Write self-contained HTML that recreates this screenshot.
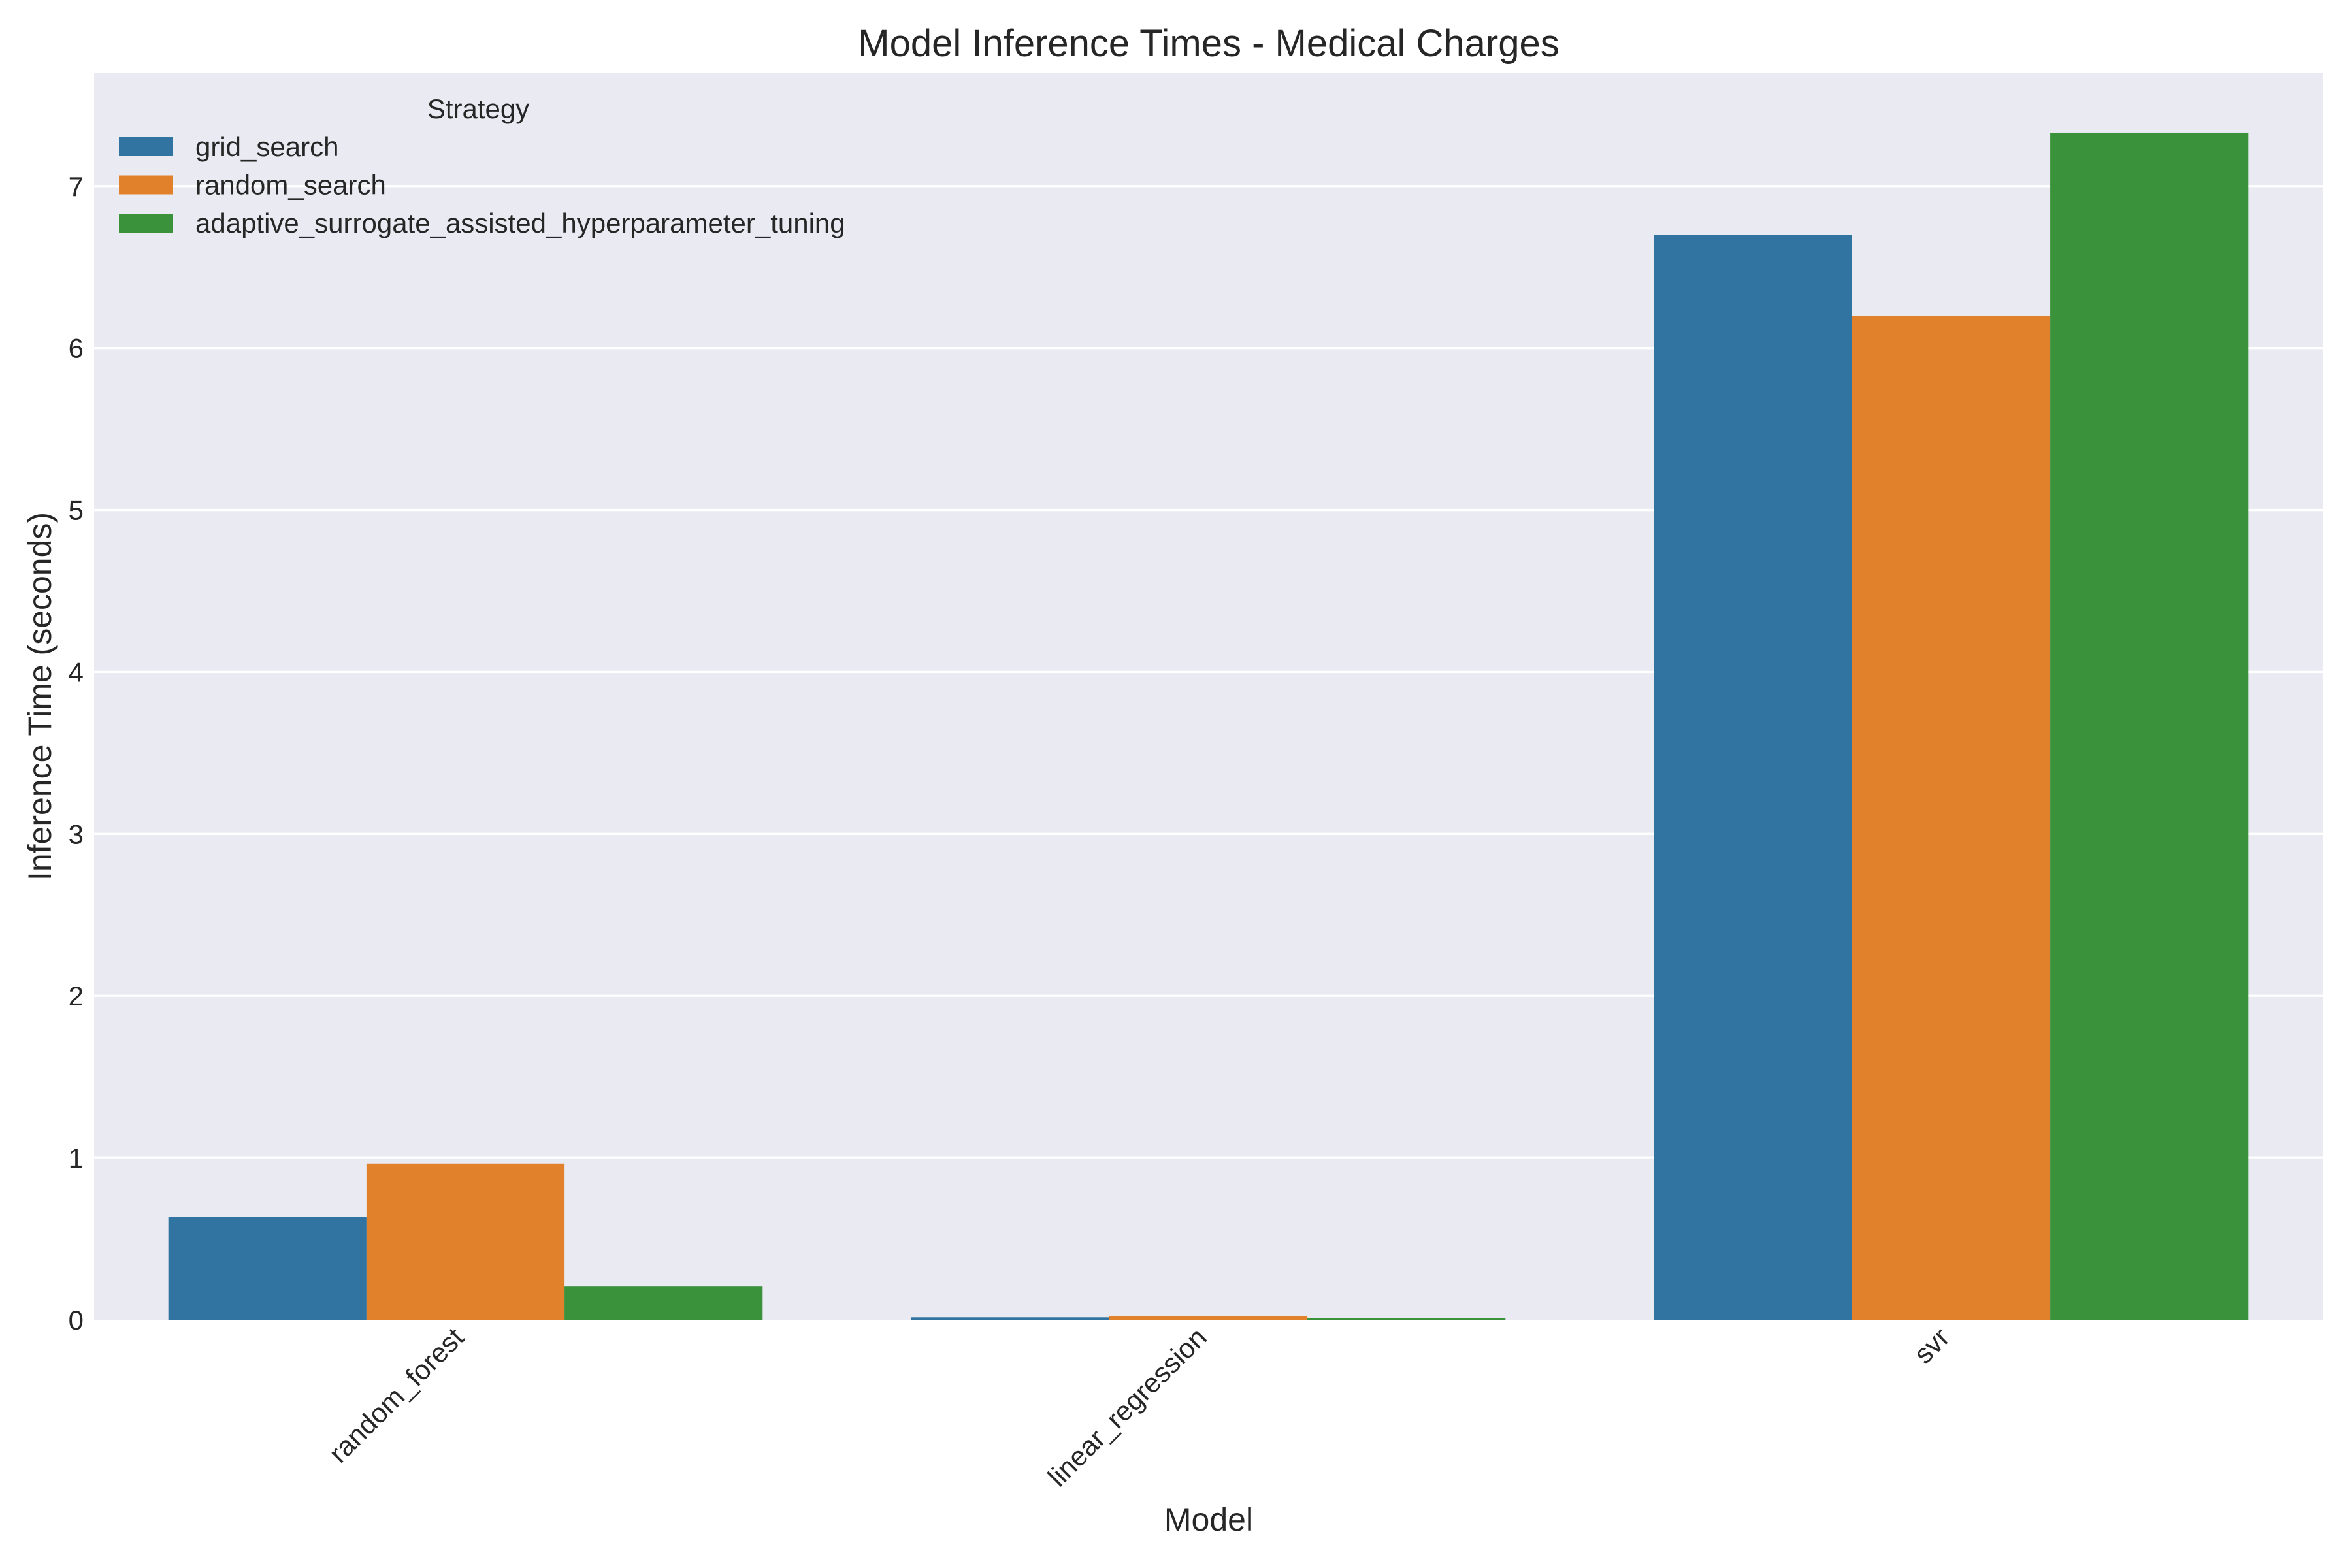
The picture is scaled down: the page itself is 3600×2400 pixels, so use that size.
<!DOCTYPE html>
<html><head><meta charset="utf-8"><style>
html,body{margin:0;padding:0;background:#fff}
svg{display:block;font-family:"Liberation Sans",Arial,sans-serif}
</style></head><body>
<svg id="chart" width="3600" height="2400" viewBox="0 0 3600 2400" xmlns="http://www.w3.org/2000/svg">
<rect x="144" y="112" width="3411" height="1908" fill="#EAEAF2"/>
<g id="grid"></g>
<g id="bars"></g>
<g id="yticks"></g>
<g id="xticks"></g>
<text x="1850" y="86" font-size="58" text-anchor="middle" fill="#262626">Model Inference Times - Medical Charges</text>
<text x="1850" y="2343" font-size="50" text-anchor="middle" fill="#262626">Model</text>
<text transform="translate(78,1066) rotate(-90)" font-size="50" text-anchor="middle" fill="#262626">Inference Time (seconds)</text>
<g>
<text x="732" y="181" font-size="42" text-anchor="middle" fill="#262626">Strategy</text>
<g id="legend"></g>
</g>
</svg>
<script>
const categories = ["random_forest", "linear_regression", "svr"];
const strategies = ["grid_search", "random_search", "adaptive_surrogate_assisted_hyperparameter_tuning"];
const gridSearch = [0.635, 0.015, 6.70];
const randomSearch = [0.965, 0.022, 6.20];
const adaptiveTuning = [0.205, 0.010, 7.33];
const yTicks = [0, 1, 2, 3, 4, 5, 6, 7];

const series = [gridSearch, randomSearch, adaptiveTuning];
const colors = ["#3274A1", "#E1812C", "#3A923A"];
const NS = "http://www.w3.org/2000/svg";
const L = 144, R = 3555, T = 112, B = 2020, YMAX = 7.697;
const band = (R - L) / categories.length;
const bw = band * 0.8 / strategies.length;
function yScale(v){ return B - v / YMAX * (B - T); }
function xBand(i){ return L + band * i + band / 2; }
function mk(tag, attrs, parent){
  const e = document.createElementNS(NS, tag);
  for (const k in attrs) e.setAttribute(k, attrs[k]);
  parent.appendChild(e);
  return e;
}
const grid = document.getElementById('grid');
const yt = document.getElementById('yticks');
yTicks.forEach(t => {
  const y = yScale(t);
  if (t > 0) {
    const g = mk('line', {x1:L, x2:R, y1:y, y2:y, stroke:'#fff', 'stroke-width':3.3}, grid);
    
    
  }
  const tx = mk('text', {x:128, y:y + 15, 'font-size':42, 'text-anchor':'end', fill:'#262626'}, yt);
  tx.textContent = t;
  
  
});
const bars = document.getElementById('bars');
categories.forEach((c, i) => {
  series.forEach((s, j) => {
    const x = xBand(i) - band * 0.4 + bw * j;
    const y = yScale(s[i]);
    const r = mk('rect', {x:x, y:y, width:bw, height:B - y, fill:colors[j]}, bars);
    
    
  });
});
const xt = document.getElementById('xticks');
categories.forEach((c, i) => {
  const x = xBand(i);
  const t = mk('text', {transform:'translate(' + x + ',' + 2050 + ') rotate(-45)', 'font-size':42, 'text-anchor':'end', fill:'#262626'}, xt);
  t.textContent = c;
  
  
});
const lg = document.getElementById('legend');
strategies.forEach((s, j) => {
  const y = 210 + j * 58.5;
  const r = mk('rect', {x:182, y:y, width:83, height:29, fill:colors[j]}, lg);
  
  
  const t = mk('text', {x:299, y:y + 29, 'font-size':42, fill:'#262626'}, lg);
  t.textContent = s;
  
  
});
</script>
</body></html>
